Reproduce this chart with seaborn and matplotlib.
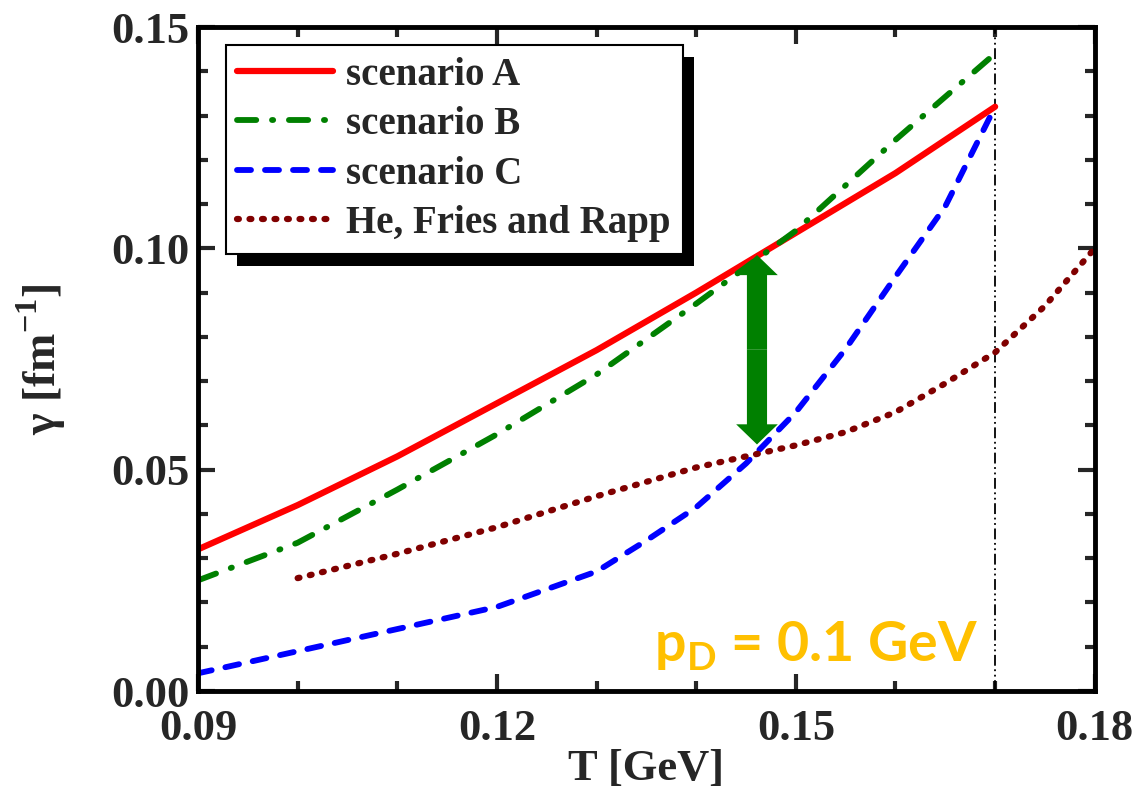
import matplotlib
matplotlib.use('Agg')
import matplotlib.pyplot as plt
import seaborn as sns
from matplotlib.ticker import MultipleLocator, FormatStrFormatter
from matplotlib.patches import Rectangle

# Data
T_A = [0.09, 0.10, 0.11, 0.12, 0.13, 0.14, 0.15, 0.16, 0.17]
gamma_A = [0.032, 0.042, 0.053, 0.065, 0.077, 0.090, 0.1035, 0.117, 0.132]

T_B = [0.09, 0.10, 0.11, 0.12, 0.13, 0.14, 0.15, 0.16, 0.17]
gamma_B = [0.025, 0.0335, 0.0455, 0.058, 0.0715, 0.0875, 0.104, 0.1245, 0.144]

T_C = [0.09, 0.10, 0.11, 0.12, 0.13, 0.135, 0.14, 0.145, 0.15, 0.155, 0.16, 0.165, 0.17]
gamma_C = [0.004, 0.009, 0.014, 0.019, 0.027, 0.034, 0.0415, 0.0514, 0.063, 0.0773, 0.0936, 0.1095, 0.132]

T_H = [0.10, 0.11, 0.12, 0.13, 0.14, 0.15, 0.155, 0.16, 0.165, 0.17, 0.175, 0.18]
gamma_H = [0.0255, 0.031, 0.037, 0.044, 0.0505, 0.0555, 0.0585, 0.063, 0.0695, 0.0765, 0.087, 0.100]

labels = ['scenario A', 'scenario B', 'scenario C', 'He, Fries and Rapp']

T_c = 0.17
arrow_T = 0.1461
arrow_top = 0.0985
arrow_bottom = 0.0557

sns.set_theme(style='ticks')
plt.rcParams['font.family'] = ['Liberation Serif', 'DejaVu Serif']
plt.rcParams['font.weight'] = 'bold'
plt.rcParams['axes.labelweight'] = 'bold'
plt.rcParams['mathtext.fontset'] = 'custom'
plt.rcParams['mathtext.rm'] = 'Liberation Serif:bold'
plt.rcParams['mathtext.bf'] = 'Liberation Serif:bold'
plt.rcParams['mathtext.sf'] = 'Lato:bold'

fig = plt.figure(figsize=(11.38, 7.9), dpi=100)
ax = fig.add_axes([0.174, 0.1253, 0.788, 0.8405])

sns.lineplot(x=T_A, y=gamma_A, ax=ax, color='#ff0000', lw=4.5, label=labels[0],
             solid_capstyle='round')
sns.lineplot(x=T_B, y=gamma_B, ax=ax, color='#008000', lw=4.2, label=labels[1],
             linestyle=(0, (3.3, 2.7, 0.2, 2.7)), dash_capstyle='round')
sns.lineplot(x=T_C, y=gamma_C, ax=ax, color='#0000ff', lw=4.2, label=labels[2],
             linestyle=(0, (2.4, 2.4)), dash_capstyle='round')
sns.lineplot(x=T_H, y=gamma_H, ax=ax, color='#800000', lw=4.5, label=labels[3],
             linestyle=(0, (0.3, 1.7)), dash_capstyle='round')

ax.axvline(T_c, color='black', lw=1.3, linestyle=(0, (6, 2, 1, 2, 1, 2)), zorder=1)

# double headed arrow
mid = (arrow_top + arrow_bottom) / 2
for end in (arrow_top, arrow_bottom):
    ax.annotate('', xy=(arrow_T, end), xytext=(arrow_T, mid),
                arrowprops=dict(arrowstyle='simple,head_length=1.45,head_width=3.0,tail_width=1.45',
                                color='#008000', shrinkA=0, shrinkB=0, mutation_scale=10, lw=0))

ax.text(0.1358, 0.0068, r'p$_{\mathsf{D}}$ = 0.1 GeV', color='#ffc000', fontsize=40,
        fontfamily='Lato', fontweight='bold', ha='left', va='baseline')

ax.set_xlim(0.09, 0.18)
ax.set_ylim(0.0, 0.15)
ax.xaxis.set_major_locator(MultipleLocator(0.03))
ax.xaxis.set_minor_locator(MultipleLocator(0.01))
ax.yaxis.set_major_locator(MultipleLocator(0.05))
ax.yaxis.set_minor_locator(MultipleLocator(0.01))
ax.xaxis.set_major_formatter(FormatStrFormatter('%.2f'))
ax.yaxis.set_major_formatter(FormatStrFormatter('%.2f'))
ax.tick_params(which='both', direction='in', top=True, right=True, width=3, labelsize=32)
ax.tick_params(axis='x', which='major', pad=13)
ax.tick_params(axis='y', which='major', pad=6)
ax.tick_params(which='major', length=12)
ax.tick_params(which='minor', length=7)
for s in ax.spines.values():
    s.set_linewidth(3.5)
    s.set_color('black')

ax.set_xlabel('T [GeV]', fontsize=32, fontweight='bold')
ax.set_ylabel(r'γ [fm$^{\mathbf{-1}}$]', fontsize=33, fontweight='bold')
ax.xaxis.set_label_coords(0.5, -0.088)
ax.yaxis.set_label_coords(-0.145, 0.5)

leg = ax.legend(loc='upper left', bbox_to_anchor=(0.031, 0.973), borderaxespad=0,
                fontsize=28, frameon=True, fancybox=False, edgecolor='black',
                handlelength=2.45, handletextpad=0.35, labelspacing=0.32,
                borderpad=0.3, framealpha=1)
leg.get_frame().set_linewidth(1.5)

# hard black shadow behind legend
fig.canvas.draw()
bb = leg.get_window_extent().transformed(fig.transFigure.inverted())
dx, dy = 11 / 1138, 12 / 790
ax.add_patch(Rectangle((bb.x0 + dx, bb.y0 - dy), bb.width, bb.height, transform=fig.transFigure,
                       facecolor='black', edgecolor='none', zorder=4.9, clip_on=False))

fig.savefig('out.png', dpi=100)
